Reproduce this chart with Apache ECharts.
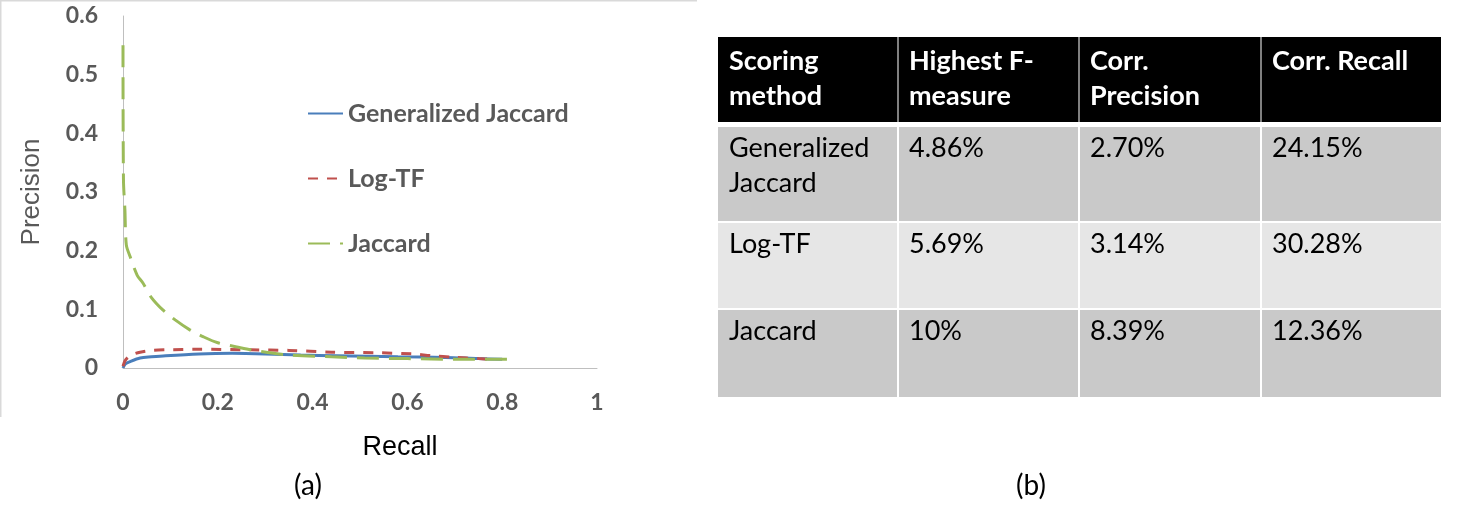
<!DOCTYPE html>
<html>
<head>
<meta charset="utf-8">
<script src="https://cdn.jsdelivr.net/npm/echarts@6/dist/echarts.min.js"></script>
<style>
	html, body { margin: 0; padding: 0; background: #fff; }
	#chart { width: 1460px; height: 520px; }
</style>
</head>
<body>
<div id="chart"></div>
<script>
// (a) precision / recall curves, [recall, precision]
var seriesNames = ['Generalized Jaccard', 'Log-TF', 'Jaccard'];
var genJaccard = [[0, 0], [0.005, 0.007], [0.015, 0.011], [0.036, 0.017], [0.06, 0.019], [0.09, 0.021],
	[0.16, 0.024], [0.23, 0.025], [0.3, 0.024], [0.375, 0.022], [0.45, 0.021], [0.58, 0.019],
	[0.68, 0.018], [0.75, 0.016], [0.8, 0.015]];
var logTF = [[0, 0.003], [0.004, 0.012], [0.01, 0.018], [0.02, 0.023], [0.036, 0.027], [0.06, 0.03],
	[0.09, 0.031], [0.16, 0.032], [0.27, 0.031], [0.35, 0.03], [0.44, 0.027], [0.535, 0.026],
	[0.61, 0.024], [0.65, 0.021], [0.7, 0.018], [0.75, 0.016], [0.78, 0.015]];
var jaccard = [[0, 0.55], [0.001, 0.32], [0.004, 0.27], [0.007, 0.21], [0.015, 0.19], [0.03, 0.158],
	[0.042, 0.145], [0.06, 0.12], [0.084, 0.099], [0.11, 0.082], [0.141, 0.065], [0.17, 0.053],
	[0.2, 0.043], [0.24, 0.036], [0.27, 0.031], [0.34, 0.023], [0.44, 0.019], [0.51, 0.017],
	[0.6, 0.016], [0.7, 0.015], [0.81, 0.015]];

// (b) table
var tableHeader = ['Scoring\nmethod', 'Highest F-\nmeasure', 'Corr.\nPrecision', 'Corr. Recall'];
var tableRows = [
	['Generalized\nJaccard', '4.86%', '2.70%', '24.15%'],
	['Log-TF', '5.69%', '3.14%', '30.28%'],
	['Jaccard', '10%', '8.39%', '12.36%']
];

var colEdges = [718, 898, 1079, 1261, 1441];
var headerBox = [37, 122];
var rowBoxes = [[127, 221], [223, 308], [310, 397]];
var rowColors = ['#c9c9c9', '#e6e6e6', '#c9c9c9'];

var chart = echarts.init(document.getElementById('chart'));

var graphics = [];
// light frame around the left picture
graphics.push({type: 'line', shape: {x1: 0, y1: 0.5, x2: 697, y2: 0.5}, style: {stroke: '#d9d9d9', lineWidth: 2}});
graphics.push({type: 'line', shape: {x1: 0.5, y1: 0, x2: 0.5, y2: 417}, style: {stroke: '#d9d9d9', lineWidth: 2}});

function addRow(cells, box, fill, textColor, weight, textTop) {
	for (var c = 0; c < cells.length; c++) {
		var x0 = colEdges[c] + (c > 0 ? 1 : 0);
		var x1 = colEdges[c + 1] - (c < cells.length - 1 ? 1 : 0);
		graphics.push({
			type: 'rect',
			shape: {x: x0, y: box[0], width: x1 - x0, height: box[1] - box[0]},
			style: {fill: fill}
		});
		graphics.push({
			type: 'text',
			x: colEdges[c] + 11,
			y: textTop,
			style: {
				text: cells[c],
				fill: textColor,
				font: weight + ' 27px Lato',
				lineHeight: 35,
				textVerticalAlign: 'top'
			}
		});
	}
}
// header cell dividers are grey on black
graphics.push({type: 'rect', shape: {x: colEdges[0], y: headerBox[0], width: colEdges[4] - colEdges[0], height: headerBox[1] - headerBox[0]}, style: {fill: '#808080'}});
addRow(tableHeader, headerBox, '#000', '#fff', 'bold', headerBox[0] + 7);
for (var r = 0; r < tableRows.length; r++) {
	addRow(tableRows[r], rowBoxes[r], rowColors[r], '#000', 'normal', rowBoxes[r][0] + 4);
}

graphics.push({type: 'text', x: 308, y: 486, style: {text: '(a)', font: '28px Lato', fill: '#000', textAlign: 'center', textVerticalAlign: 'middle'}});
graphics.push({type: 'text', x: 1031, y: 486, style: {text: '(b)', font: '28px Lato', fill: '#000', textAlign: 'center', textVerticalAlign: 'middle'}});

var axisLabelStyle = {color: '#595959', fontFamily: 'Lato', fontWeight: 'bold', fontSize: 23};

var option = {
	animation: false,
	backgroundColor: '#fff',
	grid: {left: 123, top: 16, width: 474, height: 352},
	legend: {
		orient: 'vertical',
		left: 307,
		top: 101,
		padding: 0,
		itemWidth: 35,
		itemHeight: 14,
		itemGap: 40,
		itemStyle: {opacity: 0},
		textStyle: {color: '#595959', fontFamily: 'Lato', fontWeight: 'bold', fontSize: 25},
		data: seriesNames
	},
	xAxis: {
		type: 'value',
		min: 0,
		max: 1,
		interval: 0.2,
		name: 'Recall',
		nameLocation: 'middle',
		nameGap: 66,
		nameTextStyle: {color: '#000', fontFamily: 'Liberation Sans', fontSize: 27, padding: [0, 0, 0, 80]},
		axisLine: {lineStyle: {color: '#bfbfbf', width: 1}},
		axisTick: {show: false},
		splitLine: {show: false},
		axisLabel: Object.assign({margin: 23}, axisLabelStyle)
	},
	yAxis: {
		type: 'value',
		min: 0,
		max: 0.6,
		interval: 0.1,
		name: 'Precision',
		nameLocation: 'middle',
		nameGap: 78,
		nameTextStyle: {color: '#595959', fontFamily: 'Liberation Sans', fontSize: 26},
		axisLine: {show: true, lineStyle: {color: '#bfbfbf', width: 1}},
		axisTick: {show: false},
		splitLine: {show: false},
		axisLabel: Object.assign({margin: 25}, axisLabelStyle)
	},
	series: [
		{
			name: seriesNames[0], type: 'line', data: genJaccard, smooth: 0.3, symbol: 'none',
			color: '#4a7ebb', lineStyle: {width: 3, color: '#4a7ebb'}
		},
		{
			name: seriesNames[1], type: 'line', data: logTF, smooth: 0.3, symbol: 'none',
			color: '#c0504d', lineStyle: {width: 3, color: '#c0504d', type: [10, 9]}
		},
		{
			name: seriesNames[2], type: 'line', data: jaccard, smooth: 0.3, symbol: 'none',
			color: '#9bbb59', lineStyle: {width: 3, color: '#9bbb59', type: [22, 10]}
		}
	],
	graphic: graphics
};

chart.setOption(option);
</script>
</body>
</html>
